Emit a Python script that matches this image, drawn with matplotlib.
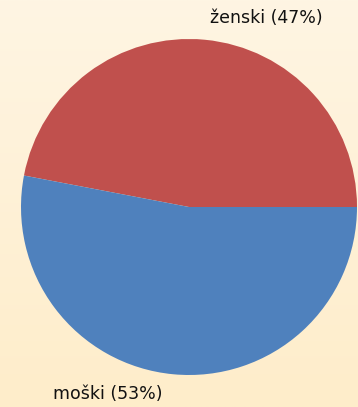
import numpy as np
import matplotlib.pyplot as plt
from matplotlib.colors import LinearSegmentedColormap

# Data
labels = ['ženski', 'moški']
shares = [47, 53]
colors = ['#C0504D', '#4F81BD']

W, H = 358, 407
fig = plt.figure(figsize=(W / 100, H / 100), dpi=100)

# background gradient (light cream at top to peach at bottom)
bg = fig.add_axes([0, 0, 1, 1], zorder=0)
grad = np.linspace(0, 1, 256).reshape(-1, 1)
cmap = LinearSegmentedColormap.from_list('bg', ['#FEF5E3', '#FFEDCA'])
bg.imshow(grad, aspect='auto', cmap=cmap, extent=[0, 1, 0, 1], origin='upper')
bg.axis('off')

ax = fig.add_axes([0, 0, 1, 1], zorder=1)
ax.patch.set_alpha(0)
ax.pie(shares, colors=colors, startangle=0, counterclock=True,
       center=(189, H - 207), radius=168,
       wedgeprops=dict(linewidth=0))
ax.set_xlim(0, W)
ax.set_ylim(0, H)
ax.set_aspect('auto')
ax.axis('off')

# outside labels
label_pos = [(266, H - 18), (108, H - 394)]
for lab, val, (x, y) in zip(labels, shares, label_pos):
    ax.text(x, y, f'{lab} ({val}%)', ha='center', va='center',
            fontsize=12.5, color='#111111')

fig.savefig('out.png', dpi=100)
